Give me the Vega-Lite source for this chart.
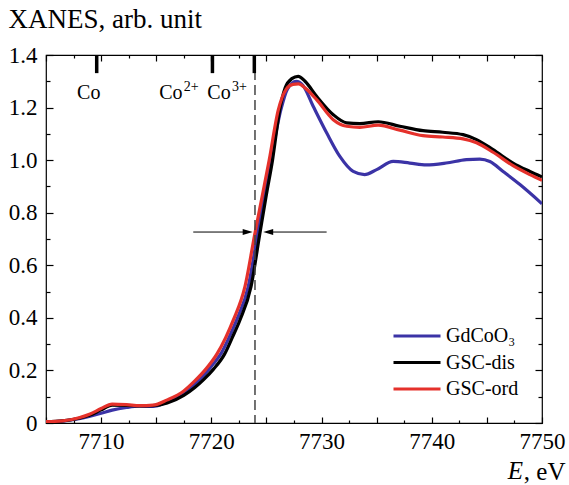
{
  "$schema": "https://vega.github.io/schema/vega-lite/v6.json",
  "width": 496,
  "height": 368,
  "autosize": "none",
  "padding": {"left": 46, "top": 55, "right": 27, "bottom": 62},
  "background": "white",
  "config": {
    "font": "Liberation Serif",
    "view": {"stroke": "black", "strokeWidth": 1.2},
    "axis": {
      "domain": false,
      "grid": false,
      "tickColor": "black",
      "tickWidth": 1.2,
      "labelColor": "black",
      "labelFont": "Liberation Serif",
      "labelFontSize": 23,
      "titleFont": "Liberation Serif",
      "titleFontWeight": "normal",
      "titleColor": "black",
      "titleFontSize": 25
    },
    "legend": {
      "labelFont": "Liberation Serif",
      "labelFontSize": 20,
      "labelColor": "black"
    }
  },
  "resolve": {"axis": {"x": "independent", "y": "independent"}},
  "layer": [
    {
      "data": {"values": [
        {"E": 7705.0, "mu": 0.004, "sample": "GdCoO₃"},
        {"E": 7706.5, "mu": 0.007, "sample": "GdCoO₃"},
        {"E": 7708.0, "mu": 0.016, "sample": "GdCoO₃"},
        {"E": 7709.0, "mu": 0.026, "sample": "GdCoO₃"},
        {"E": 7710.0, "mu": 0.037, "sample": "GdCoO₃"},
        {"E": 7711.0, "mu": 0.049, "sample": "GdCoO₃"},
        {"E": 7712.3, "mu": 0.059, "sample": "GdCoO₃"},
        {"E": 7713.5, "mu": 0.064, "sample": "GdCoO₃"},
        {"E": 7714.7, "mu": 0.063, "sample": "GdCoO₃"},
        {"E": 7716.0, "mu": 0.080, "sample": "GdCoO₃"},
        {"E": 7717.5, "mu": 0.113, "sample": "GdCoO₃"},
        {"E": 7718.5, "mu": 0.148, "sample": "GdCoO₃"},
        {"E": 7719.4, "mu": 0.185, "sample": "GdCoO₃"},
        {"E": 7720.2, "mu": 0.226, "sample": "GdCoO₃"},
        {"E": 7720.9, "mu": 0.266, "sample": "GdCoO₃"},
        {"E": 7721.6, "mu": 0.325, "sample": "GdCoO₃"},
        {"E": 7722.3, "mu": 0.392, "sample": "GdCoO₃"},
        {"E": 7723.35, "mu": 0.519, "sample": "GdCoO₃"},
        {"E": 7724.2, "mu": 0.723, "sample": "GdCoO₃"},
        {"E": 7724.75, "mu": 0.86, "sample": "GdCoO₃"},
        {"E": 7725.4, "mu": 1.0, "sample": "GdCoO₃"},
        {"E": 7726.3, "mu": 1.19, "sample": "GdCoO₃"},
        {"E": 7726.9, "mu": 1.27, "sample": "GdCoO₃"},
        {"E": 7727.7, "mu": 1.30, "sample": "GdCoO₃"},
        {"E": 7728.3, "mu": 1.285, "sample": "GdCoO₃"},
        {"E": 7729.24, "mu": 1.205, "sample": "GdCoO₃"},
        {"E": 7730.46, "mu": 1.104, "sample": "GdCoO₃"},
        {"E": 7731.66, "mu": 1.014, "sample": "GdCoO₃"},
        {"E": 7732.87, "mu": 0.957, "sample": "GdCoO₃"},
        {"E": 7733.9, "mu": 0.945, "sample": "GdCoO₃"},
        {"E": 7735.0, "mu": 0.964, "sample": "GdCoO₃"},
        {"E": 7736.5, "mu": 0.995, "sample": "GdCoO₃"},
        {"E": 7738.0, "mu": 0.989, "sample": "GdCoO₃"},
        {"E": 7739.5, "mu": 0.982, "sample": "GdCoO₃"},
        {"E": 7741.3, "mu": 0.989, "sample": "GdCoO₃"},
        {"E": 7743.15, "mu": 1.002, "sample": "GdCoO₃"},
        {"E": 7744.36, "mu": 1.004, "sample": "GdCoO₃"},
        {"E": 7745.27, "mu": 0.995, "sample": "GdCoO₃"},
        {"E": 7746.47, "mu": 0.957, "sample": "GdCoO₃"},
        {"E": 7748.0, "mu": 0.907, "sample": "GdCoO₃"},
        {"E": 7750.0, "mu": 0.834, "sample": "GdCoO₃"},

        {"E": 7705.0, "mu": 0.005, "sample": "GSC-dis"},
        {"E": 7706.5, "mu": 0.008, "sample": "GSC-dis"},
        {"E": 7708.0, "mu": 0.018, "sample": "GSC-dis"},
        {"E": 7709.0, "mu": 0.030, "sample": "GSC-dis"},
        {"E": 7710.0, "mu": 0.050, "sample": "GSC-dis"},
        {"E": 7711.0, "mu": 0.068, "sample": "GSC-dis"},
        {"E": 7712.3, "mu": 0.067, "sample": "GSC-dis"},
        {"E": 7713.5, "mu": 0.065, "sample": "GSC-dis"},
        {"E": 7714.7, "mu": 0.066, "sample": "GSC-dis"},
        {"E": 7716.0, "mu": 0.076, "sample": "GSC-dis"},
        {"E": 7717.5, "mu": 0.105, "sample": "GSC-dis"},
        {"E": 7718.5, "mu": 0.135, "sample": "GSC-dis"},
        {"E": 7719.3, "mu": 0.165, "sample": "GSC-dis"},
        {"E": 7720.2, "mu": 0.205, "sample": "GSC-dis"},
        {"E": 7721.2, "mu": 0.262, "sample": "GSC-dis"},
        {"E": 7721.9, "mu": 0.325, "sample": "GSC-dis"},
        {"E": 7722.6, "mu": 0.392, "sample": "GSC-dis"},
        {"E": 7723.6, "mu": 0.519, "sample": "GSC-dis"},
        {"E": 7724.41, "mu": 0.723, "sample": "GSC-dis"},
        {"E": 7725.0, "mu": 0.87, "sample": "GSC-dis"},
        {"E": 7725.55, "mu": 1.0, "sample": "GSC-dis"},
        {"E": 7726.2, "mu": 1.19, "sample": "GSC-dis"},
        {"E": 7726.7, "mu": 1.275, "sample": "GSC-dis"},
        {"E": 7727.3, "mu": 1.310, "sample": "GSC-dis"},
        {"E": 7727.88, "mu": 1.319, "sample": "GSC-dis"},
        {"E": 7728.5, "mu": 1.300, "sample": "GSC-dis"},
        {"E": 7729.55, "mu": 1.243, "sample": "GSC-dis"},
        {"E": 7731.06, "mu": 1.173, "sample": "GSC-dis"},
        {"E": 7732.27, "mu": 1.142, "sample": "GSC-dis"},
        {"E": 7733.48, "mu": 1.139, "sample": "GSC-dis"},
        {"E": 7735.14, "mu": 1.146, "sample": "GSC-dis"},
        {"E": 7737.1, "mu": 1.129, "sample": "GSC-dis"},
        {"E": 7739.2, "mu": 1.112, "sample": "GSC-dis"},
        {"E": 7741.0, "mu": 1.106, "sample": "GSC-dis"},
        {"E": 7742.84, "mu": 1.097, "sample": "GSC-dis"},
        {"E": 7744.06, "mu": 1.078, "sample": "GSC-dis"},
        {"E": 7745.56, "mu": 1.040, "sample": "GSC-dis"},
        {"E": 7747.37, "mu": 0.989, "sample": "GSC-dis"},
        {"E": 7748.9, "mu": 0.957, "sample": "GSC-dis"},
        {"E": 7750.0, "mu": 0.936, "sample": "GSC-dis"},

        {"E": 7705.0, "mu": 0.005, "sample": "GSC-ord"},
        {"E": 7706.5, "mu": 0.008, "sample": "GSC-ord"},
        {"E": 7708.0, "mu": 0.020, "sample": "GSC-ord"},
        {"E": 7709.0, "mu": 0.034, "sample": "GSC-ord"},
        {"E": 7710.0, "mu": 0.055, "sample": "GSC-ord"},
        {"E": 7711.0, "mu": 0.072, "sample": "GSC-ord"},
        {"E": 7712.3, "mu": 0.070, "sample": "GSC-ord"},
        {"E": 7713.5, "mu": 0.066, "sample": "GSC-ord"},
        {"E": 7714.7, "mu": 0.068, "sample": "GSC-ord"},
        {"E": 7716.0, "mu": 0.088, "sample": "GSC-ord"},
        {"E": 7717.5, "mu": 0.122, "sample": "GSC-ord"},
        {"E": 7718.5, "mu": 0.160, "sample": "GSC-ord"},
        {"E": 7719.5, "mu": 0.205, "sample": "GSC-ord"},
        {"E": 7720.5, "mu": 0.262, "sample": "GSC-ord"},
        {"E": 7721.3, "mu": 0.325, "sample": "GSC-ord"},
        {"E": 7722.0, "mu": 0.392, "sample": "GSC-ord"},
        {"E": 7723.05, "mu": 0.519, "sample": "GSC-ord"},
        {"E": 7723.96, "mu": 0.723, "sample": "GSC-ord"},
        {"E": 7724.6, "mu": 0.86, "sample": "GSC-ord"},
        {"E": 7725.25, "mu": 1.0, "sample": "GSC-ord"},
        {"E": 7726.07, "mu": 1.19, "sample": "GSC-ord"},
        {"E": 7726.8, "mu": 1.270, "sample": "GSC-ord"},
        {"E": 7727.4, "mu": 1.288, "sample": "GSC-ord"},
        {"E": 7727.9, "mu": 1.290, "sample": "GSC-ord"},
        {"E": 7728.5, "mu": 1.275, "sample": "GSC-ord"},
        {"E": 7729.55, "mu": 1.230, "sample": "GSC-ord"},
        {"E": 7731.06, "mu": 1.154, "sample": "GSC-ord"},
        {"E": 7732.27, "mu": 1.129, "sample": "GSC-ord"},
        {"E": 7733.48, "mu": 1.125, "sample": "GSC-ord"},
        {"E": 7735.14, "mu": 1.133, "sample": "GSC-ord"},
        {"E": 7737.1, "mu": 1.114, "sample": "GSC-ord"},
        {"E": 7739.2, "mu": 1.093, "sample": "GSC-ord"},
        {"E": 7741.0, "mu": 1.088, "sample": "GSC-ord"},
        {"E": 7742.84, "mu": 1.081, "sample": "GSC-ord"},
        {"E": 7744.06, "mu": 1.066, "sample": "GSC-ord"},
        {"E": 7745.56, "mu": 1.030, "sample": "GSC-ord"},
        {"E": 7747.37, "mu": 0.979, "sample": "GSC-ord"},
        {"E": 7748.9, "mu": 0.945, "sample": "GSC-ord"},
        {"E": 7750.0, "mu": 0.923, "sample": "GSC-ord"}
      ]},
      "mark": {"type": "line", "interpolate": "monotone", "strokeWidth": 3.2, "clip": true},
      "encoding": {
        "x": {
          "field": "E", "type": "quantitative",
          "scale": {"domain": [7705, 7750], "nice": false, "zero": false},
          "axis": {
            "orient": "bottom",
            "values": [7710, 7720, 7730, 7740, 7750],
            "ticks": false,
            "format": "d",
            "labelPadding": 7,
            "labelBaseline": "top",
            "labelFlush": false,
            "title": ", eV",
            "titleAnchor": "end",
            "titleAlign": "right",
            "titleBaseline": "alphabetic",
            "titleX": 519,
            "titleY": 56
          }
        },
        "y": {
          "field": "mu", "type": "quantitative",
          "scale": {"domain": [0, 1.4], "nice": false, "zero": false},
          "axis": {
            "orient": "left",
            "values": [0, 0.2, 0.4, 0.6, 0.8, 1.0, 1.2, 1.4],
            "ticks": false,
            "labelExpr": "datum.value === 0 ? '0' : format(datum.value, '.1f')",
            "labelPadding": 9,
            "labelFlush": false,
            "title": "XANES, arb. unit",
            "titleFontSize": 27,
            "titleAngle": 0,
            "titleAlign": "left",
            "titleBaseline": "alphabetic",
            "titleX": -38,
            "titleY": -28
          }
        },
        "color": {
          "field": "sample", "type": "nominal",
          "scale": {"domain": ["GdCoO₃", "GSC-dis", "GSC-ord"], "range": ["#3b33a6", "#000000", "#e5312b"]},
          "legend": {
            "title": null,
            "orient": "none",
            "legendX": 361,
            "legendY": 271,
            "padding": 0,
            "symbolType": "M-4.7,0L4.7,0",
            "symbolSize": 100,
            "symbolStrokeWidth": 3,
            "labelOffset": 19,
            "rowPadding": 6.5
          }
        }
      }
    },
    {
      "data": {"values": [{"E": 7723.96}]},
      "mark": {"type": "rule", "strokeDash": [10, 5], "color": "#444444", "strokeWidth": 1.5},
      "encoding": {
        "x": {
          "field": "E", "type": "quantitative",
          "axis": {
            "orient": "bottom",
            "values": [7705, 7710, 7715, 7720, 7725, 7730, 7735, 7740, 7745, 7750],
            "tickSize": 6, "offset": -6,
            "labels": false, "title": null
          }
        }
      }
    },
    {
      "data": {"values": [{"E": 7709.6}, {"E": 7720.1}, {"E": 7723.9}]},
      "mark": {"type": "rule", "color": "black", "strokeWidth": 3.5},
      "encoding": {
        "x": {
          "field": "E", "type": "quantitative",
          "axis": {
            "orient": "bottom",
            "values": [7707.5, 7712.5, 7717.5, 7722.5, 7727.5, 7732.5, 7737.5, 7742.5, 7747.5],
            "tickSize": 3, "offset": -3,
            "labels": false, "title": null
          }
        },
        "y": {
          "datum": 1.4, "type": "quantitative",
          "axis": {
            "orient": "left",
            "values": [0, 0.2, 0.4, 0.6, 0.8, 1.0, 1.2, 1.4],
            "tickSize": 7, "offset": -7,
            "labels": false, "title": null
          }
        },
        "y2": {"datum": 1.331}
      }
    },
    {
      "data": {"values": [{"from": 7718.36, "to": 7723.3, "level": 0.7265}, {"from": 7730.46, "to": 7725.16, "level": 0.7265}]},
      "mark": {"type": "rule", "color": "black", "strokeWidth": 1},
      "encoding": {
        "x": {
          "field": "from", "type": "quantitative",
          "axis": {
            "orient": "top",
            "values": [7705, 7710, 7715, 7720, 7725, 7730, 7735, 7740, 7745, 7750],
            "tickSize": 6, "offset": -6,
            "labels": false, "title": null
          }
        },
        "x2": {"field": "to"},
        "y": {
          "field": "level", "type": "quantitative",
          "axis": {
            "orient": "right",
            "values": [0, 0.2, 0.4, 0.6, 0.8, 1.0, 1.2, 1.4],
            "tickSize": 7, "offset": -7,
            "labels": false, "title": null
          }
        }
      }
    },
    {
      "data": {"values": [{"E": 7723.3, "level": 0.7265}]},
      "mark": {"type": "point", "shape": "M1,0L-1,-0.6L-1,0.6Z", "size": 100, "filled": true, "color": "black", "opacity": 1},
      "encoding": {
        "x": {
          "field": "E", "type": "quantitative",
          "axis": {
            "orient": "top",
            "values": [7707.5, 7712.5, 7717.5, 7722.5, 7727.5, 7732.5, 7737.5, 7742.5, 7747.5],
            "tickSize": 3, "offset": -3,
            "labels": false, "title": null
          }
        },
        "y": {
          "field": "level", "type": "quantitative",
          "axis": {
            "orient": "left",
            "values": [0.1, 0.3, 0.5, 0.7, 0.9, 1.1, 1.3],
            "tickSize": 4, "offset": -4,
            "labels": false, "title": null
          }
        }
      }
    },
    {
      "data": {"values": [{"E": 7725.16, "level": 0.7265}]},
      "mark": {"type": "point", "shape": "M-1,0L1,-0.6L1,0.6Z", "size": 100, "filled": true, "color": "black", "opacity": 1},
      "encoding": {
        "x": {"field": "E", "type": "quantitative", "axis": null},
        "y": {
          "field": "level", "type": "quantitative",
          "axis": {
            "orient": "right",
            "values": [0.1, 0.3, 0.5, 0.7, 0.9, 1.1, 1.3],
            "tickSize": 4, "offset": -4,
            "labels": false, "title": null
          }
        }
      }
    },
    {
      "data": {"values": [{"E": 7707.82, "level": 1.231, "t": "Co"}, {"E": 7715.27, "level": 1.231, "t": "Co"}, {"E": 7719.64, "level": 1.231, "t": "Co"}]},
      "mark": {"type": "text", "align": "left", "baseline": "alphabetic", "fontSize": 20, "color": "black"},
      "encoding": {
        "x": {"field": "E", "type": "quantitative", "axis": null},
        "y": {"field": "level", "type": "quantitative", "axis": null},
        "text": {"field": "t"}
      }
    },
    {
      "data": {"values": [{"E": 7717.5, "level": 1.262, "t": "2+"}, {"E": 7721.87, "level": 1.262, "t": "3+"}]},
      "mark": {"type": "text", "align": "left", "baseline": "alphabetic", "fontSize": 14, "color": "black"},
      "encoding": {
        "x": {"field": "E", "type": "quantitative", "axis": null},
        "y": {"field": "level", "type": "quantitative", "axis": null},
        "text": {"field": "t"}
      }
    },
    {
      "data": {"values": [{"t": "E"}]},
      "mark": {"type": "text", "align": "right", "baseline": "alphabetic", "fontSize": 25, "fontStyle": "italic", "color": "black", "dx": -19, "dy": 56, "clip": false},
      "encoding": {
        "x": {"datum": 7750, "type": "quantitative", "axis": null},
        "y": {"datum": 0, "type": "quantitative", "axis": null},
        "text": {"field": "t"}
      }
    }
  ]
}
